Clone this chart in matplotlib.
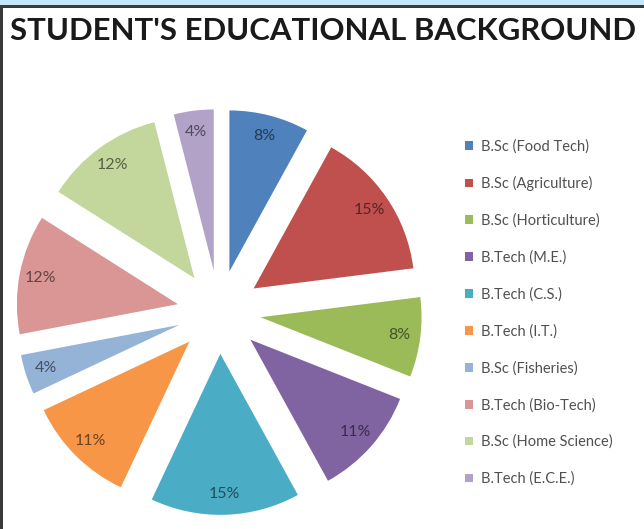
import numpy as np
import matplotlib
matplotlib.use("Agg")
import matplotlib.pyplot as plt
from matplotlib.patches import Rectangle
from matplotlib.colors import to_rgb

plt.rcParams['font.family'] = ['Lato', 'DejaVu Sans']

# data (percent of students)
courses = ['B.Sc (Food Tech)', 'B.Sc (Agriculture)', 'B.Sc (Horticulture)',
           'B.Tech (M.E.)', 'B.Tech (C.S.)', 'B.Tech (I.T.)',
           'B.Sc (Fisheries)', 'B.Tech (Bio-Tech)', 'B.Sc (Home Science)',
           'B.Tech (E.C.E.)']
shares = [8, 15, 8, 11, 15, 11, 4, 12, 12, 4]
colors = ['#4F81BD', '#C0504D', '#9BBB59', '#8064A2', '#4BACC6',
          '#F79646', '#95B3D7', '#D99694', '#C3D69B', '#B3A2C7']

W, H = 644, 529
fig = plt.figure(figsize=(W / 100, H / 100), dpi=100)
fig.patch.set_facecolor('white')

# frame bits: light blue strip on top, dark border left/top
fig.patches.append(Rectangle((0, 1 - 5 / H), 1, 5 / H, transform=fig.transFigure,
                             facecolor='#C5E6F6', edgecolor='none', zorder=0))
fig.patches.append(Rectangle((0, 1 - 8 / H), 1, 3 / H, transform=fig.transFigure,
                             facecolor='#3A3A3A', edgecolor='none', zorder=0))
fig.patches.append(Rectangle((0, 0), 3 / W, 1 - 5 / H, transform=fig.transFigure,
                             facecolor='#3A3A3A', edgecolor='none', zorder=0))

fig.text(10 / W, 1 - 17 / H, "STUDENT'S EDUCATIONAL BACKGROUND",
         fontsize=22.4, fontweight='bold', color='#1a1a1a', va='top', ha='left')

# pie axes, centre near (219, 312) px
half = 215
cx, cy = 219, 312
ax = fig.add_axes([(cx - half) / W, (H - cy - half) / H, 2 * half / W, 2 * half / H])

wedges, texts, autotexts = ax.pie(shares, colors=colors, startangle=90, counterclock=False,
                                  explode=[0.26] * len(shares), radius=1,
                                  autopct='%.0f%%', pctdistance=0.87,
                                  wedgeprops=dict(linewidth=0))
for t, c in zip(autotexts, colors):
    r, g, b = to_rgb(c)
    t.set_color((r * 0.45, g * 0.45, b * 0.45))
    t.set_fontsize(11.5)

# pie() resets the limits, so set them afterwards (1 unit = 161 px)
lim = half / 161
ax.set_xlim(-lim, lim)
ax.set_ylim(-lim, lim)
ax.set_aspect('equal')
ax.axis('off')

fig.legend(wedges, courses, loc='upper left', bbox_to_anchor=(452 / W, 1 - 126 / H),
           frameon=False, fontsize=10.5, handlelength=0.55, handleheight=0.55,
           handletextpad=0.55, labelspacing=1.545, labelcolor='#505050')

fig.savefig('out.png', dpi=100)
